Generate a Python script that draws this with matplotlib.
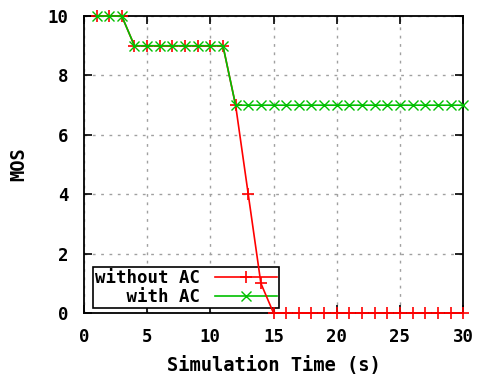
import numpy as np
import matplotlib
matplotlib.use('Agg')
import matplotlib.pyplot as plt

# MOS over simulation time
time_s = list(range(1, 31))
mos_without_ac = [10, 10, 10, 9, 9, 9, 9, 9, 9, 9, 9, 7, 4, 1] + [0] * 16
mos_with_ac = [10, 10, 10, 9, 9, 9, 9, 9, 9, 9, 9] + [7] * 19

x_ticks = [0, 5, 10, 15, 20, 25, 30]
y_ticks = [0, 2, 4, 6, 8, 10]

plt.rcParams['font.family'] = 'DejaVu Sans Mono'
plt.rcParams['font.weight'] = 'bold'

fig = plt.figure(figsize=(4.82, 3.74), dpi=100)
ax = fig.add_axes([0.174, 0.163, 0.787, 0.794])

ax.plot(time_s, mos_without_ac, color='#ff0000', lw=1.2, marker='+', ms=8, mew=1.2,
        label='without AC', clip_on=False, zorder=3)
ax.plot(time_s, mos_with_ac, color='#00c000', lw=1.2, marker='x', ms=7.5, mew=1.0,
        label='   with AC', clip_on=False, zorder=4)

ax.set_xlim(0, 30)
ax.set_ylim(0, 10)
ax.set_xticks(x_ticks)
ax.set_yticks(y_ticks)
ax.tick_params(direction='in', length=6, width=1.2, top=True, right=True,
               labelsize=12.5)
ax.tick_params(axis='x', pad=11)
ax.tick_params(axis='y', pad=11)
for lbl in ax.get_xticklabels() + ax.get_yticklabels():
    lbl.set_fontweight('bold')
ax.grid(True, color='#a0a0a0', linestyle=(0, (2, 4)), lw=1.0)
for s in ax.spines.values():
    s.set_linewidth(1.3)

ax.set_xlabel('Simulation Time (s)', fontsize=13.5, fontweight='bold', labelpad=7)
ax.set_ylabel('MOS', fontsize=13.5, fontweight='bold', labelpad=14)

leg = ax.legend(loc='lower left', bbox_to_anchor=(0.0237, 0.0168),
                borderaxespad=0, markerfirst=False, fancybox=False, edgecolor='black',
                framealpha=1, borderpad=0.12, handlelength=3.6, handletextpad=0.85,
                labelspacing=0.05,
                prop={'family': 'DejaVu Sans Mono', 'weight': 'bold', 'size': 12.5})
leg.get_frame().set_linewidth(1.2)
leg.set_zorder(2)

fig.savefig('out.png', dpi=100)
